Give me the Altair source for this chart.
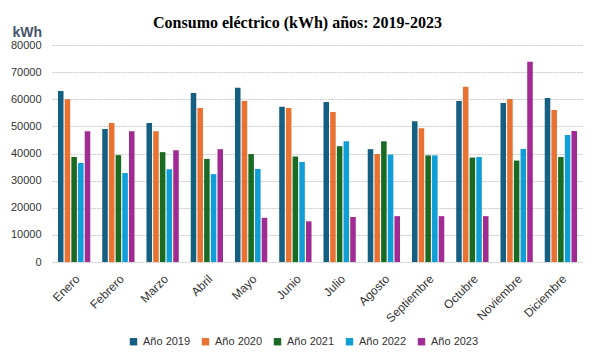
import altair as alt
import pandas as pd

months = ["Enero", "Febrero", "Marzo", "Abril", "Mayo", "Junio", "Julio",
          "Agosto", "Septiembre", "Octubre", "Noviembre", "Diciembre"]
series = ["Año 2019", "Año 2020", "Año 2021", "Año 2022", "Año 2023"]
v2019 = [63000, 49000, 51200, 62300, 64200, 57200, 59000, 41600, 51900, 59400, 58600, 60500]
v2020 = [60000, 51200, 48200, 56800, 59400, 56800, 55300, 39800, 49300, 64600, 60100, 56000]
v2021 = [38700, 39400, 40500, 38000, 39800, 38900, 42700, 44500, 39300, 38500, 37400, 38700]
v2022 = [36500, 32800, 34200, 32400, 34300, 36900, 44500, 39600, 39300, 38700, 41700, 46800]
v2023 = [48200, 48200, 41200, 41600, 16300, 15000, 16600, 16900, 16900, 16900, 73800, 48300]
colors = ["#156082", "#E97132", "#196B24", "#0F9ED5", "#A02B93"]

rows = []
for s, vals in zip(series, [v2019, v2020, v2021, v2022, v2023]):
    for m, v in zip(months, vals):
        rows.append({"Mes": m, "Serie": s, "kWh": v})
df = pd.DataFrame(rows)

chart = alt.Chart(df).mark_bar().encode(
    x=alt.X("Mes:N", sort=months,
            scale=alt.Scale(paddingInner=0.27, paddingOuter=0.135),
            axis=alt.Axis(title=None, labelAngle=-45, labelFontSize=12,
                          labelColor="#333333", ticks=False, domain=False,
                          labelPadding=11, labelFont="Liberation Sans")),
    xOffset=alt.XOffset("Serie:N", sort=series,
                        scale=alt.Scale(paddingInner=0.17)),
    y=alt.Y("kWh:Q", scale=alt.Scale(domain=[0, 80000], nice=False),
            axis=alt.Axis(title="kWh", titleAngle=0, titleX=-40, titleY=-9,
                          titleAlign="left", titleBaseline="alphabetic",
                          titleFontSize=14, titleFontWeight="bold",
                          titleColor="#44546A", titleFont="Liberation Sans",
                          values=list(range(0, 80001, 10000)), format="d",
                          labelFontSize=11, labelColor="#333333",
                          labelFont="Liberation Sans", labelPadding=11,
                          ticks=False, domain=False,
                          gridColor="#C8C8C8", gridDash=[2, 1], gridWidth=1)),
    color=alt.Color("Serie:N", sort=series,
                    scale=alt.Scale(domain=series, range=colors),
                    legend=alt.Legend(title=None, orient="none", direction="horizontal",
                                      legendX=76, legendY=291,
                                      symbolType="square", symbolSize=55,
                                      symbolStrokeWidth=0,
                                      labelFontSize=11, labelColor="#333333",
                                      labelFont="Liberation Sans",
                                      columnPadding=9, symbolOffset=0)),
).properties(
    width=531, height=217,
    title=alt.TitleParams("Consumo  eléctrico (kWh) años: 2019-2023",
                          font="Liberation Serif", fontSize=16, fontWeight="bold",
                          color="#000000", dx=-20, dy=20, offset=14, anchor="middle"),
    autosize=alt.AutoSizeParams(type="none"),
    padding={"left": 44, "top": 37, "right": 5, "bottom": 100},
).configure_view(stroke=None)

chart.save("out.html", embed_options={"renderer": "svg", "actions": False})
